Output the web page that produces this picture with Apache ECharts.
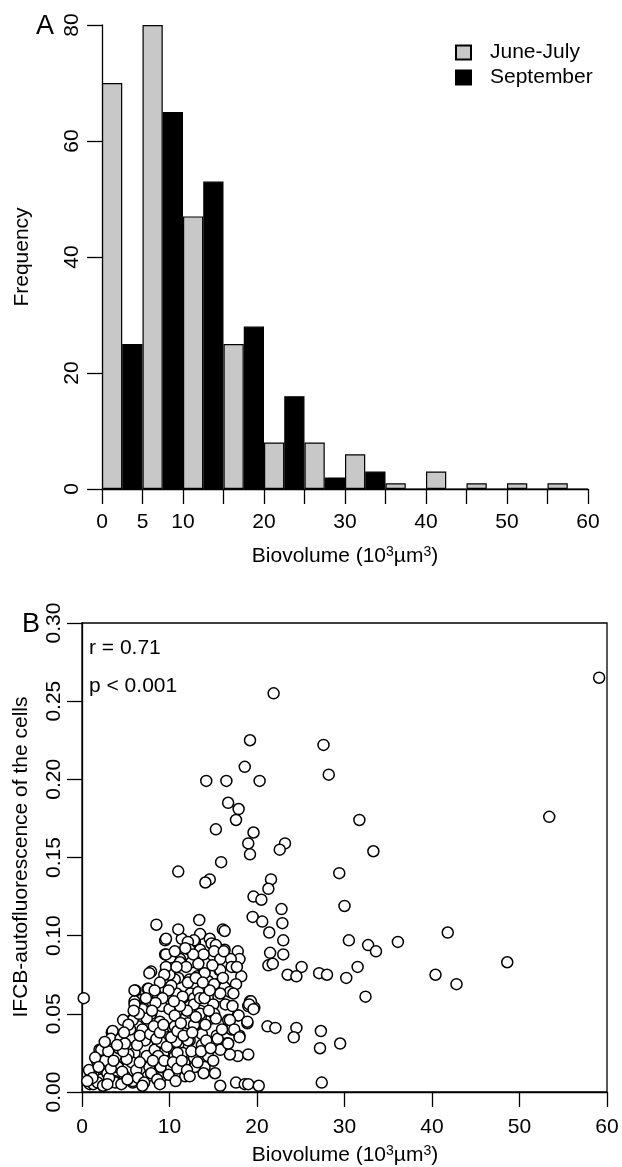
<!DOCTYPE html>
<html>
<head>
<meta charset="utf-8">
<script src="https://cdn.jsdelivr.net/npm/echarts@6/dist/echarts.min.js"></script>
<style>
  html, body { margin: 0; padding: 0; background: #fff; }
  #main { width: 622px; height: 1167px; }
</style>
</head>
<body>
<div id="main"></div>
<script>
// histogram bins (start of each 5-unit bin) and counts
var binStarts = [0, 5, 10, 15, 20, 25, 30, 35, 40, 45, 50, 55];
var juneJuly = [70, 80, 47, 25, 8, 8, 6, 1, 3, 1, 1, 1];
var september = [25, 65, 53, 28, 16, 2, 3, 0, 0, 0, 0, 0];
var histXLabels = [0, 5, 10, 20, 30, 40, 50, 60];

// scatter: biovolume vs autofluorescence
var sparsePts = [
  [59.1,0.265],[21.9,0.255],[19.2,0.225],[27.6,0.222],[18.6,0.208],[28.2,0.203],[14.2,0.199],[16.5,0.199],
  [20.3,0.199],[16.7,0.185],[17.9,0.181],[17.6,0.174],[31.7,0.174],[53.4,0.176],[15.3,0.168],[19.6,0.166],
  [19.0,0.159],[23.2,0.159],[22.6,0.155],[19.2,0.152],[33.3,0.154],[15.9,0.147],[11.0,0.141],[29.4,0.140],
  [14.6,0.136],[14.1,0.134],[21.6,0.136],[21.3,0.130],[19.6,0.125],[20.5,0.123],[30.0,0.119],[22.8,0.117],
  [19.5,0.112],[20.6,0.109],[22.9,0.108],[8.5,0.107],[11.0,0.104],[13.4,0.110],[16.1,0.104],[16.3,0.103],
  [21.4,0.102],[41.8,0.102],[23.0,0.097],[30.5,0.097],[36.1,0.096],[32.7,0.094],[33.6,0.090],[21.5,0.089],
  [23.0,0.088],[21.3,0.081],[21.8,0.082],[48.6,0.083],[31.5,0.080],[25.1,0.080],[27.1,0.076],[28.0,0.075],
  [23.5,0.075],[24.5,0.074],[30.2,0.073],[40.4,0.075],[42.8,0.069],[32.4,0.061],[0.2,0.060],[27.3,0.039],
  [27.2,0.028],[29.5,0.031],[27.4,0.006],[24.5,0.041],[24.2,0.035],[21.2,0.042],[22.1,0.041],[15.8,0.004],
  [17.6,0.006],[18.6,0.005],[19.0,0.005],[20.2,0.004]
];
var clusterPts = [
  [17.8,0.090],[18.0,0.085],[17.5,0.080],[18.2,0.074],[17.6,0.069],[19.2,0.058],[19.7,0.054],[19.0,0.055],
  [17.8,0.049],[16.9,0.046],[18.9,0.044],[18.0,0.036],[16.7,0.031],[17.8,0.023],[19.0,0.024],
  [11.4,0.098],[13.5,0.101],[14.6,0.098],[9.5,0.097],[12.9,0.096],[14.8,0.095],[15.5,0.091],[16.3,0.091],
  [13.5,0.091],[9.5,0.088],[11.2,0.085],[10.1,0.086],[12.5,0.083],[13.5,0.082],[14.8,0.085],[15.7,0.078],
  [17.0,0.085],[17.1,0.080],[7.9,0.077],[10.2,0.076],[11.0,0.073],[12.3,0.072],[9.6,0.078],[13.2,0.074],
  [14.0,0.077],[14.4,0.071],[15.5,0.069],[16.3,0.067],[16.9,0.064],[15.6,0.061],[6.1,0.065],[7.5,0.066],
  [6.8,0.059],[6.0,0.058],[8.7,0.061],[9.8,0.062],[11.0,0.061],[11.5,0.060],[12.3,0.062],[13.3,0.063],
  [7.0,0.054],[7.4,0.048],[5.7,0.046],[6.4,0.042],[7.9,0.050],[9.1,0.055],[10.0,0.053],[8.9,0.045],
  [10.4,0.041],[11.9,0.048],[13.1,0.044],[13.5,0.052],[14.8,0.047],[15.0,0.056],[16.7,0.046],[17.1,0.040],
  [15.4,0.036],[16.5,0.031],[16.9,0.024],[3.4,0.038],[4.3,0.035],[5.3,0.038],[3.5,0.030],[5.5,0.030],
  [7.2,0.035],[8.7,0.031],[9.8,0.035],[11.0,0.030],[12.3,0.033],[13.7,0.030],[12.9,0.023],[11.5,0.025],
  [10.6,0.023],[9.3,0.025],[7.7,0.023],[6.0,0.025],[2.0,0.027],[2.8,0.022],[3.9,0.023],[1.7,0.020],
  [2.6,0.014],[4.1,0.016],[5.7,0.019],[6.8,0.013],[8.3,0.016],[9.5,0.014],[11.0,0.013],[14.0,0.016],
  [1.3,0.011],[2.2,0.008],[3.7,0.007],[5.8,0.006],[0.9,0.005],[7.5,0.010],[4.9,0.010],
  [17.7,0.080],[15.3,0.094],[15.1,0.090],[15.8,0.085],[16.2,0.090],[15.8,0.078],[15.1,0.069],[15.8,0.063],
  [14.2,0.082],[14.0,0.076],[12.8,0.097],[12.1,0.096],[12.3,0.091],[11.2,0.083],[11.9,0.080],[12.1,0.070],
  [12.4,0.063],[12.8,0.060],[12.8,0.056],[10.6,0.072],[10.8,0.063],[11.5,0.061],[10.0,0.075],[10.2,0.068],
  [9.6,0.098],[9.6,0.088],[9.6,0.080],[9.4,0.075],[7.7,0.076],[7.6,0.066],[6.9,0.053],[6.0,0.065],
  [5.8,0.046],[4.7,0.046],[5.6,0.035],[5.3,0.024],[3.5,0.039],[3.3,0.034],[4.4,0.034],[4.2,0.028],
  [2.2,0.027],[2.6,0.020],[1.5,0.022],[1.0,0.012],[1.3,0.005],[0.8,0.014],[4.1,0.016],[2.9,0.012],
  [3.8,0.006],[5.8,0.007],[6.2,0.014],[7.4,0.023],[7.7,0.016],[8.3,0.027],[9.0,0.032],[8.7,0.023],
  [9.0,0.016],[9.0,0.009],[10.2,0.016],[10.6,0.042],[10.6,0.049],[10.8,0.032],[10.9,0.025],[11.7,0.019],
  [11.8,0.010],[12.8,0.022],[12.9,0.016],[12.1,0.033],[12.1,0.044],[6.9,0.040],[7.2,0.033],[7.4,0.047],
  [6.0,0.056],[13.3,0.064],[13.5,0.060],[13.0,0.073],[13.3,0.082],[13.5,0.050],[12.8,0.043],[13.7,0.037],
  [14.2,0.033],[14.4,0.023],[15.1,0.050],[15.3,0.047],[15.5,0.034],[15.8,0.027],[17.9,0.049],[18.9,0.045],
  [16.9,0.046],[17.4,0.040],[18.0,0.035],[16.7,0.031],[19.3,0.058],[19.1,0.056],[19.6,0.053],
  [1.8,0.006],[2.4,0.004],[3.1,0.009],[3.3,0.015],[4.5,0.005],[4.6,0.013],[5.2,0.008],[5.1,0.021],
  [6.4,0.009],[6.6,0.019],[7.1,0.006],[7.9,0.012],[8.1,0.020],[8.6,0.008],[9.4,0.020],[9.9,0.011],
  [10.4,0.019],[10.9,0.015],[11.4,0.020],[12.0,0.014],[12.5,0.026],[13.2,0.019],[13.6,0.026],[14.7,0.028],
  [3.0,0.026],[3.6,0.020],[4.7,0.026],[4.9,0.031],[5.5,0.040],[6.3,0.030],[6.6,0.036],[7.8,0.037],
  [8.2,0.042],[8.5,0.034],[8.9,0.038],[9.3,0.043],[9.7,0.029],[10.2,0.035],[10.9,0.039],[11.3,0.044],
  [11.6,0.036],[12.6,0.038],[13.0,0.048],[14.1,0.043],[14.5,0.052],[14.0,0.060],[14.6,0.065],[13.8,0.070],
  [12.0,0.052],[11.2,0.055],[10.5,0.058],[9.9,0.065],[9.2,0.060],[8.4,0.057],[8.0,0.052],[7.3,0.060],
  [6.5,0.050],[5.9,0.052],[5.3,0.043],[4.8,0.038],[4.0,0.030],[2.6,0.032],[1.9,0.016],[1.2,0.009],
  [0.6,0.007],[2.9,0.005],[6.9,0.004],[8.9,0.005],[10.7,0.007],[12.3,0.010],[13.9,0.012],[15.0,0.020],
  [15.2,0.012],[16.0,0.040],[16.4,0.056],[17.3,0.063],[17.2,0.055],[16.1,0.073],[14.9,0.081],[13.9,0.088],
  [12.7,0.088],[11.8,0.092],[10.6,0.090],[10.8,0.080],[8.9,0.070],[8.3,0.065]
];

var FONT = 'Liberation Sans, Arial, Helvetica, sans-serif';
var chart = echarts.init(document.getElementById('main'), null, { renderer: 'canvas' });

// grid geometry (pixels)
var histGrid = { left: 102, top: 25, width: 486, height: 464 };
var scatGrid = { left: 82, top: 623, width: 525, height: 469 };
var halfBin = 2.5;
var barPx = histGrid.width / 60 * halfBin;

var jjData = binStarts.map(function (b, i) { return [b + halfBin / 2, juneJuly[i]]; });
var sepData = binStarts.map(function (b, i) { return [b + halfBin * 1.5, september[i]]; });

var axisLineStyle = { color: '#000', width: 1.3 };
var labelStyle = { color: '#000', fontSize: 21, fontFamily: FONT };

// axis title with real superscripts
function bioTitle(x, y) {
  return {
    type: 'text', x: x, y: y,
    style: {
      text: 'Biovolume (10{sup|3}µm{sup|3})',
      fontSize: 21, fontFamily: FONT, fill: '#000', align: 'center', verticalAlign: 'middle',
      rich: { sup: { fontSize: 14, fontFamily: FONT, fill: '#000', verticalAlign: 'top', padding: [0, 0, 7, 0] } }
    }
  };
}

var option = {
  animation: false,
  backgroundColor: '#fff',
  textStyle: { fontFamily: FONT },
  grid: [
    Object.assign({ outerBoundsMode: 'none', containLabel: false }, histGrid),
    Object.assign({ outerBoundsMode: 'none', containLabel: false, show: true,
      borderColor: '#000', borderWidth: 1.3, backgroundColor: 'transparent' }, scatGrid)
  ],
  legend: {
    orient: 'vertical',
    left: 455,
    top: 42,
    padding: 0,
    itemWidth: 15,
    itemHeight: 14,
    itemGap: 4,
    icon: 'rect',
    textStyle: { color: '#000', fontSize: 21, fontFamily: FONT, padding: [0, 0, 0, 14] },
    data: ['June-July', 'September']
  },
  xAxis: [
    {
      gridIndex: 0, type: 'value', min: 0, max: 60, interval: 5,
      axisLine: { show: true, lineStyle: axisLineStyle },
      axisTick: { show: true, length: 15, lineStyle: axisLineStyle },
      axisLabel: Object.assign({ margin: 23, formatter: function (v) {
        return histXLabels.indexOf(v) >= 0 ? String(v) : '';
      } }, labelStyle),
      splitLine: { show: false }
    },
    {
      gridIndex: 1, type: 'value', min: 0, max: 60, interval: 10,
      axisLine: { show: true, lineStyle: axisLineStyle },
      axisTick: { show: true, length: 15, lineStyle: axisLineStyle },
      axisLabel: Object.assign({ margin: 25 }, labelStyle),
      splitLine: { show: false }
    }
  ],
  yAxis: [
    {
      gridIndex: 0, type: 'value', min: 0, max: 80, interval: 20,
      axisLine: { show: true, lineStyle: axisLineStyle },
      axisTick: { show: true, length: 15, lineStyle: axisLineStyle },
      axisLabel: Object.assign({ margin: 19, rotate: 90 }, labelStyle),
      splitLine: { show: false }
    },
    {
      gridIndex: 1, type: 'value', min: 0, max: 0.30, interval: 0.05,
      axisLine: { show: true, lineStyle: axisLineStyle },
      axisTick: { show: true, length: 15, lineStyle: axisLineStyle },
      axisLabel: Object.assign({ margin: 17, rotate: 90, formatter: function (v) { return v.toFixed(2); } }, labelStyle),
      splitLine: { show: false }
    }
  ],
  series: [
    {
      name: 'June-July', type: 'bar', xAxisIndex: 0, yAxisIndex: 0,
      barWidth: barPx, barGap: '-100%',
      itemStyle: { color: '#c8c8c8', borderColor: '#000', borderWidth: 1.2 },
      data: jjData
    },
    {
      name: 'September', type: 'bar', xAxisIndex: 0, yAxisIndex: 0,
      barWidth: barPx, barGap: '-100%',
      itemStyle: { color: '#000', borderColor: '#000', borderWidth: 1.2 },
      data: sepData
    },
    {
      name: 'cells', type: 'scatter', xAxisIndex: 1, yAxisIndex: 1,
      symbol: 'circle', symbolSize: 11,
      itemStyle: { color: '#fff', borderColor: '#000', borderWidth: 1.5, opacity: 1 },
      data: clusterPts.concat(sparsePts)
    }
  ],
  graphic: [
    { type: 'text', left: 36, top: 13, style: { text: 'A', fontSize: 27, fontFamily: FONT, fill: '#000' } },
    { type: 'text', left: 22, top: 611, style: { text: 'B', fontSize: 27, fontFamily: FONT, fill: '#000' } },
    { type: 'text', x: 89, y: 648, style: { text: 'r = 0.71', fontSize: 21, fontFamily: FONT, fill: '#000', verticalAlign: 'middle' } },
    { type: 'text', x: 89, y: 686, style: { text: 'p < 0.001', fontSize: 21, fontFamily: FONT, fill: '#000', verticalAlign: 'middle' } },
    { type: 'text', x: 22, y: 257, rotation: Math.PI / 2,
      style: { text: 'Frequency', fontSize: 21, fontFamily: FONT, fill: '#000', align: 'center', verticalAlign: 'middle' } },
    { type: 'text', x: 21, y: 857, rotation: Math.PI / 2,
      style: { text: 'IFCB-autofluorescence of the cells', fontSize: 21, fontFamily: FONT, fill: '#000', align: 'center', verticalAlign: 'middle' } },
    bioTitle(345, 556),
    bioTitle(345, 1155)
  ]
};
chart.setOption(option);
</script>
</body>
</html>
